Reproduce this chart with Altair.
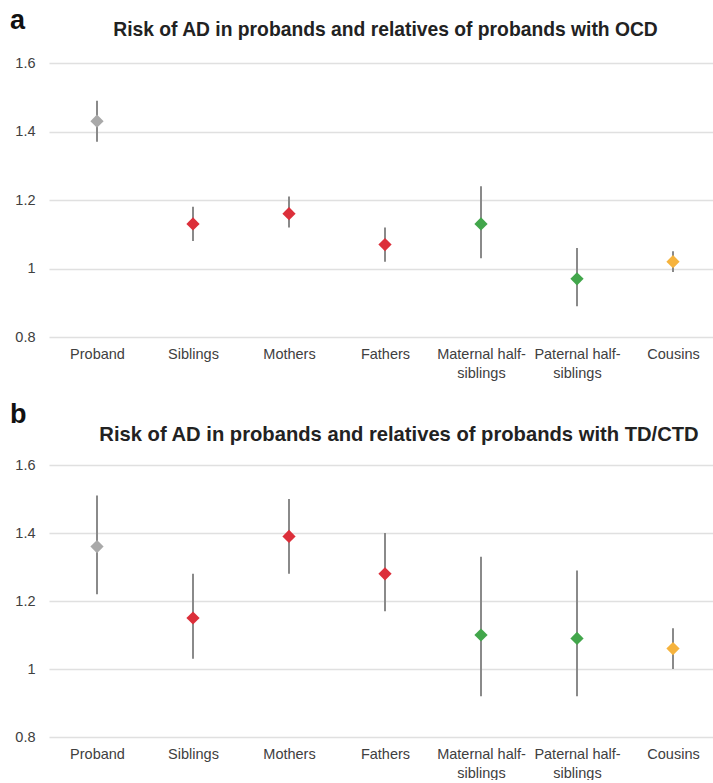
import json
import altair as alt
import pandas as pd

categories = ["Proband", "Siblings", "Mothers", "Fathers",
              "Maternal half-siblings", "Paternal half-siblings", "Cousins"]
groups = ["proband", "first", "first", "first", "second", "second", "third"]

ocd_est = [1.43, 1.13, 1.16, 1.07, 1.13, 0.97, 1.02]
ocd_lo = [1.37, 1.08, 1.12, 1.02, 1.03, 0.89, 0.99]
ocd_hi = [1.49, 1.18, 1.21, 1.12, 1.24, 1.06, 1.05]

td_est = [1.36, 1.15, 1.39, 1.28, 1.10, 1.09, 1.06]
td_lo = [1.22, 1.03, 1.28, 1.17, 0.92, 0.92, 1.00]
td_hi = [1.51, 1.28, 1.50, 1.40, 1.33, 1.29, 1.12]

group_domain = ["proband", "first", "second", "third"]
group_colors = ["#a9a9a9", "#dc2f3a", "#42a64b", "#f6b33d"]

y_ticks = [0.8, 1, 1.2, 1.4, 1.6]

FONT = "Liberation Sans"


def wrap(c):
    i = c.find("half-")
    return [c[:i + 5], c[i + 5:]] if i >= 0 else [c]


label_expr = json.dumps([wrap(c) for c in categories]) + "[datum.value]"

PLOT_W = 664
STEP = 96


def panel(est, lo, hi, letter, title, height, title_size, title_x, title_y, letter_y):
    df = pd.DataFrame({"idx": list(range(len(categories))), "cat": categories,
                       "group": groups, "est": est, "lo": lo, "hi": hi})
    x_scale = alt.Scale(domain=[-0.5, -0.5 + PLOT_W / STEP], nice=False, zero=False)
    x_axis = alt.Axis(values=list(range(len(categories))), labelAngle=0,
                      domain=False, ticks=False, grid=False,
                      labelPadding=10, labelFontSize=14.5,
                      labelColor="#404040", labelFont=FONT,
                      labelLineHeight=19, labelExpr=label_expr,
                      labelLimit=200, labelOverlap=False,
                      labelFlush=False, labelBound=False)
    y_scale = alt.Scale(domain=[0.8, 1.6], nice=False, zero=False)
    y_axis = alt.Axis(values=y_ticks, domain=False, ticks=False,
                      labelExpr="'' + datum.value", labelPadding=14,
                      labelFontSize=14.5, labelColor="#404040",
                      labelFont=FONT, gridColor="#e0e0e0", gridWidth=1.6)
    base = alt.Chart(df)
    rules = base.mark_rule(color="#8a8a8a", strokeWidth=2).encode(
        x=alt.X("idx:Q", title=None, scale=x_scale, axis=x_axis),
        y=alt.Y("lo:Q", scale=y_scale, title=None, axis=y_axis),
        y2="hi:Q",
    )
    points = base.mark_point(shape="diamond", filled=True, size=175,
                             opacity=1).encode(
        x=alt.X("idx:Q", title=None, scale=x_scale, axis=x_axis),
        y=alt.Y("est:Q", scale=y_scale, title=None, axis=y_axis),
        color=alt.Color("group:N", legend=None,
                        scale=alt.Scale(domain=group_domain,
                                        range=group_colors)),
    )
    tag = alt.Chart(pd.DataFrame({"t": [letter]})).mark_text(
        font=FONT, fontSize=27, fontWeight="bold", color="#111",
        align="left", baseline="alphabetic"
    ).encode(text="t:N", x=alt.value(-39), y=alt.value(letter_y))
    head = alt.Chart(pd.DataFrame({"t": [title]})).mark_text(
        font=FONT, fontSize=title_size, fontWeight="bold", color="#222",
        align="center", baseline="alphabetic"
    ).encode(text="t:N", x=alt.value(title_x), y=alt.value(title_y))
    return alt.layer(rules, points, tag, head).properties(
        width=PLOT_W, height=height,
        view=alt.ViewBackground(stroke="transparent", strokeWidth=0))


top = panel(ocd_est, ocd_lo, ocd_hi, "a",
            "Risk of AD in probands and relatives of probands with OCD",
            274, 19.3, 336.5, -27, -34)
bottom = panel(td_est, td_lo, td_hi, "b",
               "Risk of AD in probands and relatives of probands with TD/CTD",
               272, 20.2, 350, -24, -42)

chart = alt.vconcat(top, bottom, spacing=21).properties(
    padding={"left": 10, "top": 7, "right": 0, "bottom": 0}
).configure_view(strokeWidth=0, stroke="transparent").configure(background="white")

chart.save("out.html", embed_options={"renderer": "svg", "actions": False})
